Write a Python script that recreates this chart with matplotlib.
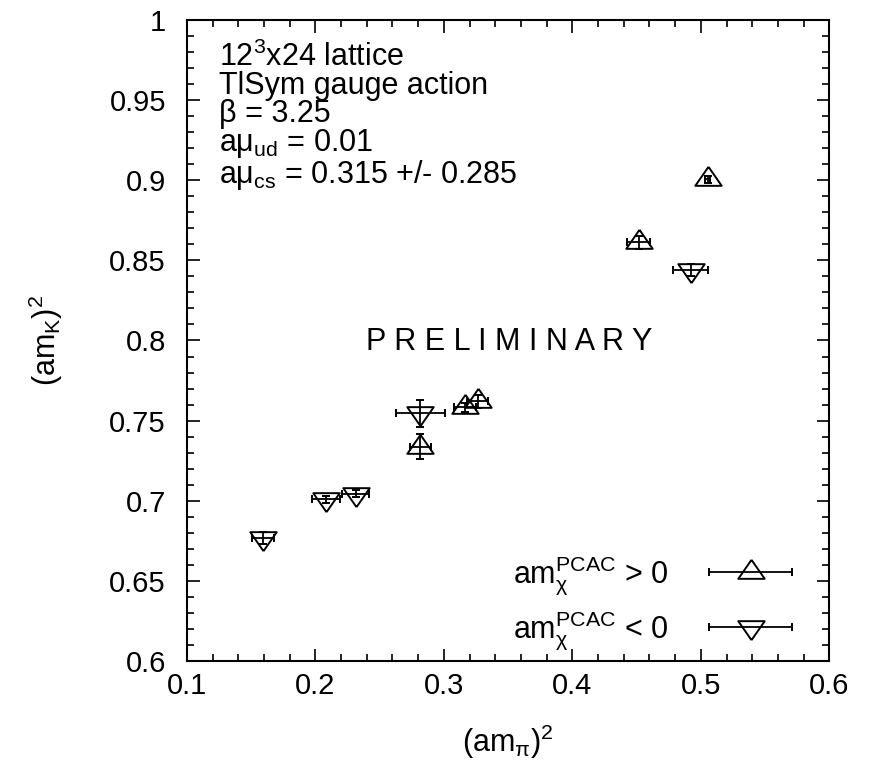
import matplotlib
matplotlib.use("Agg")
import matplotlib.pyplot as plt
from matplotlib.ticker import MultipleLocator
from matplotlib.container import ErrorbarContainer
from matplotlib.legend_handler import HandlerErrorbar
import numpy as np

plt.rcParams['font.family'] = ['Liberation Sans', 'DejaVu Sans']
plt.rcParams['mathtext.fontset'] = 'custom'
plt.rcParams['mathtext.rm'] = 'Liberation Sans'
plt.rcParams['mathtext.it'] = 'Liberation Sans'
plt.rcParams['mathtext.bf'] = 'Liberation Sans'

# am_chi^PCAC > 0
pos_x = [0.2818, 0.3166, 0.3264, 0.4515, 0.5054]
pos_y = [0.7338, 0.7583, 0.7622, 0.8612, 0.9005]
pos_xerr = [0.008, 0.0087, 0.0083, 0.009, 0.002]
pos_yerr = [0.0077, 0.003, 0.004, 0.004, 0.002]

# am_chi^PCAC < 0
neg_x = [0.1595, 0.2081, 0.2314, 0.2818, 0.4922]
neg_y = [0.6767, 0.7009, 0.7045, 0.7547, 0.8439]
neg_xerr = [0.0085, 0.0108, 0.0104, 0.0188, 0.0136]
neg_yerr = [0.0037, 0.002, 0.002, 0.0084, 0.004]

info_lines = [r'12$^3$x24 lattice',
              'TlSym gauge action',
              'β = 3.25',
              r'aμ$_{\rm ud}$ = 0.01',
              r'aμ$_{\rm cs}$ = 0.315 +/- 0.285']
legend_labels = [r'am$_{χ}^{\rm PCAC}$ > 0', r'am$_{χ}^{\rm PCAC}$ < 0']

FS = 22

# gnuplot style triangles, centred on the centroid
tri_up = [(0, 0.96), (-1, -0.48), (1, -0.48), (0, 0.96)]
tri_dn = [(0, -0.96), (-1, 0.48), (1, 0.48), (0, -0.96)]

fig = plt.figure(figsize=(8.73, 7.6), dpi=100)
ax = fig.add_axes([0.214, 0.130, 0.736, 0.844])

style = dict(ls='none', color='black', mfc='none', mec='black', ms=19,
             mew=1.4, elinewidth=1.3, capsize=3, capthick=1.3)
ax.errorbar(pos_x, pos_y, xerr=pos_xerr, yerr=pos_yerr, marker=tri_up, **style)
ax.errorbar(neg_x, neg_y, xerr=neg_xerr, yerr=neg_yerr, marker=tri_dn, **style)

# legend proxies (nan -> nothing drawn in the axes), horizontal bars only
p1 = ax.errorbar([np.nan], [np.nan], xerr=[0.01], marker=tri_up, **style)
p2 = ax.errorbar([np.nan], [np.nan], xerr=[0.01], marker=tri_dn, **style)

ax.set_xlim(0.1, 0.6)
ax.set_ylim(0.6, 1.0)
ax.xaxis.set_major_locator(MultipleLocator(0.1))
ax.xaxis.set_minor_locator(MultipleLocator(0.02))
ax.yaxis.set_major_locator(MultipleLocator(0.05))
ax.yaxis.set_minor_locator(MultipleLocator(0.01))
ax.xaxis.set_major_formatter(lambda v, p: f'{v:g}')
ax.yaxis.set_major_formatter(lambda v, p: f'{v:g}')
ax.tick_params(which='both', direction='in', top=True, right=True, width=1.2,
               labelsize=21)
ax.tick_params(which='major', length=9)
ax.tick_params(axis='x', which='major', pad=8)
ax.tick_params(axis='y', which='major', pad=15)
ax.tick_params(which='minor', length=5)
for s in ax.spines.values():
    s.set_linewidth(1.5)

ax.set_xlabel(r'(am$_{π}$)$^2$', fontsize=FS, labelpad=16)
ax.set_ylabel(r'(am$_{\rm K}$)$^2$', fontsize=FS, labelpad=32)

# run parameters as one text block
ax.text(0.05, 0.966, '\n'.join(info_lines), transform=ax.transAxes,
        fontsize=FS, va='top', ha='left', linespacing=0.915)

ax.text(0.351, 0.7993, 'P R E L I M I N A R Y', fontsize=FS,
        ha='center', va='center')

ax.legend([p1, p2], legend_labels,
          handler_map={ErrorbarContainer: HandlerErrorbar(xerr_size=1.35)},
          loc='lower right', markerfirst=False, frameon=False, fontsize=FS,
          handlelength=2.8, handletextpad=1.3, borderaxespad=0.0,
          labelspacing=0.4, bbox_to_anchor=(0.963, -0.005))

fig.savefig('out.png', dpi=100)
